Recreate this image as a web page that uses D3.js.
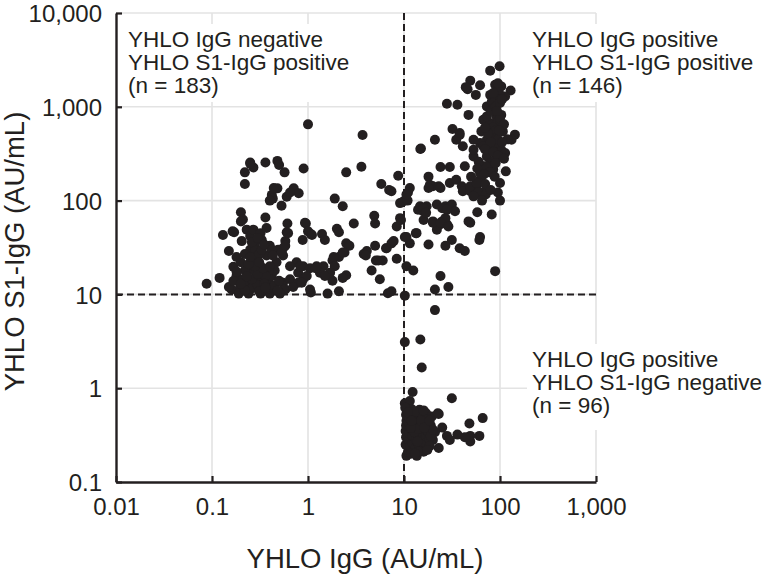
<!DOCTYPE html>
<html>
<head>
<meta charset="utf-8">
<script src="https://cdn.jsdelivr.net/npm/d3@7"></script>
<style>
html,body{margin:0;padding:0;background:#fff;}
svg{display:block;font-family:"Liberation Sans",Arial,Helvetica,sans-serif;}
</style>
</head>
<body>
<svg id="chart" width="770" height="580"></svg>
<script>
// ---- data (YHLO IgG, YHLO S1-IgG), AU/mL ----
const xTickValues = [0.01, 0.1, 1, 10, 100, 1000];
const xTickLabels = ["0.01", "0.1", "1", "10", "100", "1,000"];
const yTickValues = [0.1, 1, 10, 100, 1000, 10000];
const yTickLabels = ["0.1", "1", "10", "100", "1,000", "10,000"];
const cutoffIgG = 10;
const cutoffS1 = 10;

const xTitle = "YHLO IgG (AU/mL)";
const yTitle = "YHLO S1-IgG (AU/mL)";

const labelNegPos = ["YHLO IgG negative", "YHLO S1-IgG positive", "(n = 183)"];
const labelPosPos = ["YHLO IgG positive", "YHLO S1-IgG positive", "(n = 146)"];
const labelPosNeg = ["YHLO IgG positive", "YHLO S1-IgG negative", "(n = 96)"];

// IgG negative / S1-IgG positive
const groupNegPos = [
[0.088,13],[0.12,15],[0.13,43],[0.17,46],[0.15,29],[0.2,75],[0.21,63],[0.22,200],[0.22,150],[0.25,255],
[0.27,225],[0.36,255],[0.48,265],[0.5,240],[0.57,200],[0.9,220],[1.0,650],[3.7,500],[3.6,230],[2.5,200],
[5.8,150],[7,130],[0.42,115],[0.43,105],[0.48,135],[0.53,88],[0.6,110],[0.71,135],[0.8,120],[1.9,105],
[2.3,87],[3,57],[4.9,69],[5,57],[0.95,57],[1.07,44],[0.88,38],[0.36,66],[0.61,57],[0.6,46],
[0.58,37],[0.55,31],[0.55,26],[1.4,44],[1.5,38],[2.0,50],[2.1,46],[2.5,35],[2.7,33],[2.4,28],
[2.1,25],[1.8,23],[1.45,20],[1.23,20],[1.05,19],[0.89,20],[0.76,22],[0.65,20],[0.79,17],[1.33,17],
[1.6,16],[1.8,14],[2.5,16],[3.8,27],[4.1,29],[4.6,18],[5.1,23],[6,23],[5.6,14.5],[5,33],
[6.5,31],[6.8,10.3],[1.07,10.5],[1.6,10.2],[2.1,10.8],[0.164,47],[0.167,19.7],[0.18,15.7],[0.16,11.3],[0.2,60],
[0.204,37],[0.23,49],[0.25,42],[0.27,49],[0.28,35],[0.25,30],[0.29,28],[0.32,45],[0.33,38],[0.37,51],
[0.29,23.6],[0.32,20],[0.27,18],[0.22,18],[0.21,14.5],[0.196,12],[0.24,12.8],[0.27,13.9],[0.29,11.7],[0.33,15],
[0.34,11.3],[0.39,13.3],[0.42,15.7],[0.44,11.3],[0.47,22],[0.45,18],[0.49,30],[0.53,28],[0.62,45],[0.58,33],
[0.55,13.3],[0.58,11.3],[0.65,14.5],[0.83,20],[0.93,58],[1.0,47],[1.1,43],[0.89,14.5],[0.79,13.3],[1.05,11.3],
[0.7,12],[0.51,10.2],[0.4,10.2],[0.19,10.2],[0.24,10.2],[0.32,10.2],[0.15,12],[0.167,13.9],[0.18,17.5],[0.2,22],
[0.26,23.6],[0.28,30],[0.37,26],[0.4,33],[0.42,30],[0.39,18],[0.36,15.7],[0.25,11.3],[0.27,12],[0.25,248],
[0.44,136],[0.4,100],[0.65,122],[7.4,126],[8.7,184],[9.1,94],[8.4,53],[9.1,65],[2.3,28],[1.85,25],
[6.6,31],[7.4,35],[4.0,26],[5.4,23],[8.4,24],[2.3,15],[1.9,20],[1.7,17],[1.5,15.7],[1.2,19],
[0.97,15.7],[0.86,13.3],[7.4,10.8],[9.8,98],[9.3,62],[7.8,37],[0.22,11],[0.3,12.5],[0.35,13],[0.31,10.8],
[0.26,14.5],[0.38,11.5],[0.45,12.5],[0.2,13],[0.23,15.5],[0.3,16.5],[0.34,19],[0.28,20],[0.24,21],[0.3,26],
[0.33,30],[0.26,36],[0.3,40],[0.35,34],[0.22,27],[0.18,25],[0.25,25],[0.31,22],[0.4,20],[0.43,26],
[0.5,14],[0.48,11],[0.36,11.8]
];

// IgG positive / S1-IgG positive
const groupPosPos = [
[11.5,136],[14,80],[10.9,100],[10.6,41],[11.5,35],[13.5,45],[10.6,20],[12.5,18],[14.8,355],[11,122],
[10.2,41],[21,11.3],[29,12],[15,360],[21,445],[28,1080],[36,1050],[47,820],[32,580],[38,500],
[35,445],[41,380],[24,228],[30,228],[18,180],[23,142],[20,142],[30,154],[35,167],[40,142],
[43,232],[41,126],[53,296],[62,167],[57,142],[67,122],[55,116],[49,126],[95,122],[100,154],
[115,205],[85,214],[82,71],[89,17.7],[62,41],[61,38],[58,75],[47,60],[31.5,38],[38,31],
[43,29],[27,33],[18,34],[24,56],[28,56],[22,49],[25,60],[20,60],[16,62],[15.8,77],
[14.7,87],[17.2,87],[22,91],[27,87],[31.5,91],[34,77],[24,15.7],[18.6,147],[79,2430],[99,2700],
[49,1900],[46,1540],[62,1700],[56,1340],[79,1340],[89,1715],[103,1650],[129,1490],[113,1290],[73,1010],
[67,728],[79,667],[92,790],[103,820],[79,570],[89,484],[73,445],[107,547],[143,505],[132,445],
[103,349],[113,322],[73,296],[79,252],[89,273],[66,232],[62,197],[53,349],[62,410],[64,547],
[73,790],[85,930],[82,1130],[89,1230],[100,1340],[96,1520],[100,637],[85,378],[96,410],[44,1620],
[95,1780],[38,525],[53,445],[59,122],[53,111],[71,232],[67,378],[85,1090],[18,136],[24,136],
[49,142],[57,154],[71,116],[100,100],[10.6,116],[16,83],[17,74],[25,83],[28,80],[27,65],
[20,58],[24,58],[29,53],[49,58],[13.3,45],[80,900],[90,1000],[95,700],[85,600],[100,750],
[90,560],[75,520],[95,450],[80,420],[70,350],[85,330],[95,300],[78,200],[88,180],[70,150],
[80,130],[65,100],[90,250],[100,1100],[85,1400],[105,1200],[70,600],[110,650],[120,450],[60,260],
[58,220],[50,180],[68,190],[93,900],[98,560],[105,420],[110,280]
];

// IgG positive / S1-IgG negative
const groupPosNeg = [
[21,6.8],[10.2,3.1],[14.8,3.3],[15.3,1.66],[12.3,0.91],[31.5,0.78],[10.2,0.69],[11.5,0.73],[23,0.53],[66,0.48],
[48,0.42],[25,0.38],[28,0.31],[36,0.32],[49,0.31],[61,0.31],[49,0.27],[30,0.28],[23,0.23],[10.6,0.19],
[13.6,0.19],[16,0.21],[20,0.28],[21,0.34],[19,0.4],[19.5,0.5],[17,0.54],[14.5,0.59],[22.5,0.54],[43,0.30],
[11,0.21],[10.2,9.7],[12,0.21],[10.4,0.25],[10.5,0.3],[10.4,0.35],[10.5,0.4],[10.6,0.45],[10.5,0.52],[11.2,0.28],
[11.3,0.33],[11.5,0.38],[11.2,0.43],[11.4,0.48],[11.6,0.24],[12.2,0.26],[12.3,0.31],[12.5,0.36],[12.2,0.41],[12.4,0.46],
[12.6,0.52],[13.2,0.23],[13.3,0.28],[13.5,0.33],[13.3,0.38],[13.6,0.43],[13.4,0.5],[14.3,0.25],[14.4,0.3],[14.6,0.35],
[14.4,0.4],[14.7,0.46],[15.5,0.22],[15.5,0.27],[15.7,0.32],[15.5,0.37],[15.8,0.42],[15.6,0.5],[16.8,0.26],[16.9,0.31],
[17,0.36],[16.8,0.42],[17.5,0.47],[18.2,0.29],[18,0.34],[18.5,0.24],[10.8,0.58],[12,0.6],[13,0.56],[19,0.31],
[20,0.36],[11.8,0.2],[14,0.21],[13,0.2],[10.3,0.62],[11,0.55],[16,0.58],[12.8,0.34],[14,0.37],[11.8,0.38],
[15,0.45],[13.8,0.27],[16.3,0.38],[12,0.45],[17.5,0.22],[18.5,0.45]
];

// ---- drawing ----
const ink = "#231f20";
const gridColor = "#e3e3e3";
const svg = d3.select("#chart");
const plotL = 116, plotR = 596, plotT = 13, plotB = 482;

const x = d3.scaleLog().domain([xTickValues[0], xTickValues[xTickValues.length-1]]).range([plotL, plotR]);
const y = d3.scaleLog().domain([yTickValues[0], yTickValues[yTickValues.length-1]]).range([plotB, plotT]);

// gridlines
const g = svg.append("g");
g.selectAll("line.vg").data(xTickValues.slice(1)).join("line")
  .attr("x1", d => x(d)).attr("x2", d => x(d)).attr("y1", plotT).attr("y2", plotB)
  .attr("stroke", gridColor).attr("stroke-width", 1.6);
g.selectAll("line.hg").data(yTickValues.slice(1)).join("line")
  .attr("x1", plotL).attr("x2", plotR).attr("y1", d => y(d)).attr("y2", d => y(d))
  .attr("stroke", gridColor).attr("stroke-width", 1.6);

// label backgrounds (hide gridlines behind text)
function boxAt(x0, y0, w, h) {
  svg.append("rect").attr("x", x0).attr("y", y0).attr("width", w).attr("height", h).attr("fill", "#fff");
}
boxAt(122, 24, 212, 78);
boxAt(527, 24, 243, 78);
boxAt(527, 344, 243, 86);

// cutoff lines
svg.append("line").attr("x1", x(cutoffIgG)).attr("x2", x(cutoffIgG)).attr("y1", plotT).attr("y2", plotB)
  .attr("stroke", ink).attr("stroke-width", 2).attr("stroke-dasharray", "7,4");
svg.append("line").attr("x1", plotL).attr("x2", plotR).attr("y1", y(cutoffS1)).attr("y2", y(cutoffS1))
  .attr("stroke", ink).attr("stroke-width", 2).attr("stroke-dasharray", "7,4");

// points
const allPts = groupNegPos.concat(groupPosPos, groupPosNeg);
svg.append("g").selectAll("circle").data(allPts).join("circle")
  .attr("cx", d => x(d[0])).attr("cy", d => y(d[1])).attr("r", 5).attr("fill", ink);

// axes
const xAxis = d3.axisBottom(x).tickValues(xTickValues).tickFormat((d, i) => xTickLabels[i])
  .tickSizeInner(-6).tickSizeOuter(0).tickPadding(16);
const yAxis = d3.axisLeft(y).tickValues(yTickValues).tickFormat((d, i) => yTickLabels[i])
  .tickSizeInner(-6).tickSizeOuter(0).tickPadding(14);

const gx = svg.append("g").attr("transform", `translate(0,${plotB})`).call(xAxis);
const gy = svg.append("g").attr("transform", `translate(${plotL},0)`).call(yAxis);
[gx, gy].forEach(a => {
  a.select(".domain").attr("stroke", ink).attr("stroke-width", 2.4);
  a.selectAll(".tick line").attr("stroke", ink).attr("stroke-width", 2.2);
  a.selectAll(".tick text").attr("fill", ink).attr("font-size", 24)
    .attr("font-family", '"Liberation Sans",Arial,sans-serif');
});
gy.selectAll(".tick text").attr("dy", "0.36em");

// axis titles
svg.append("text").attr("x", (plotL + plotR) / 2 + 9).attr("y", 568).attr("text-anchor", "middle")
  .attr("font-size", 27.5).attr("fill", ink).text(xTitle);
svg.append("text").attr("transform", `translate(24,${(plotT + plotB) / 2 + 4}) rotate(-90)`)
  .attr("text-anchor", "middle").attr("font-size", 27.5).attr("fill", ink).text(yTitle);

// quadrant labels
function label(lines, x0, y0) {
  const t = svg.append("text").attr("font-size", 22.5).attr("fill", ink);
  lines.forEach((s, i) => t.append("tspan").attr("x", x0).attr("y", y0 + i * 23).text(s));
}
label(labelNegPos, 128, 47);
label(labelPosPos, 532, 47);
label(labelPosNeg, 532, 367);
</script>
</body>
</html>
